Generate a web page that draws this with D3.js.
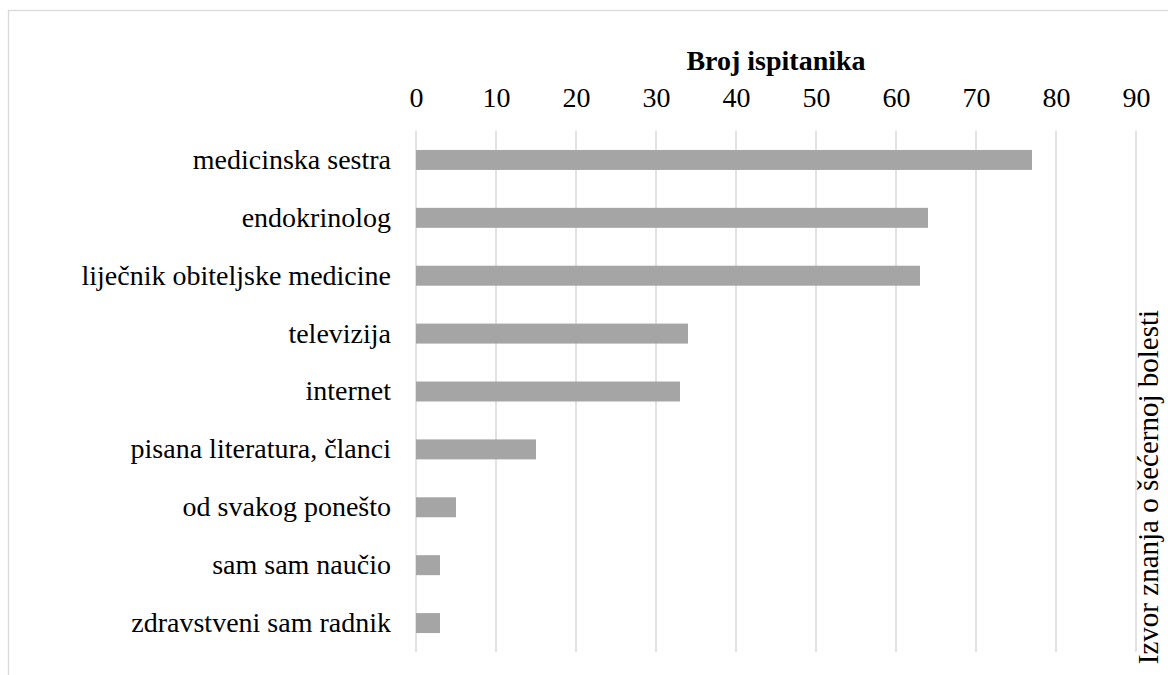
<!DOCTYPE html>
<html>
<head>
<meta charset="utf-8">
<script src="https://cdn.jsdelivr.net/npm/d3@7"></script>
<style>
  body { margin: 0; background: #fff; }
  svg { display: block; font-family: "Liberation Serif", "Times New Roman", serif; }
  svg text { font-family: "Liberation Serif", "Times New Roman", serif; }
</style>
</head>
<body>
<div id="chart"></div>
<script>
var categories = ["medicinska sestra", "endokrinolog", "liječnik obiteljske medicine", "televizija",
                  "internet", "pisana literatura, članci", "od svakog ponešto", "sam sam naučio",
                  "zdravstveni sam radnik"];
var values = [77, 64, 63, 34, 33, 15, 5, 3, 3];
var tickValues = [0, 10, 20, 30, 40, 50, 60, 70, 80, 90];
var xTitle = "Broj ispitanika";
var yTitle = "Izvor znanja o šećernoj bolesti";

var margin = {top: 131, right: 32, bottom: 23, left: 416},
    w = 1168,
    h = 675;
var width = w - margin.left - margin.right,   // 720
    height = h - margin.top - margin.bottom;  // 521

var svg = d3.select("#chart")
  .append("svg")
  .attr("width", w)
  .attr("height", h);

// outer chart border (runs past the right and bottom edge, as in the picture)
svg.append("rect")
  .attr("x", 8.5).attr("y", 10.5)
  .attr("width", 1300).attr("height", 800)
  .attr("fill", "none")
  .attr("stroke", "#d9d9d9")
  .attr("stroke-width", 1.3);

var g = svg.append("g")
  .attr("transform", "translate(" + margin.left + "," + margin.top + ")");

var x = d3.scaleLinear().domain([0, 90]).range([0, width]);
var y = d3.scaleBand().domain(categories).range([0, height]).paddingInner(0.655).paddingOuter(0.3275);

// gridlines
g.selectAll("line.grid")
  .data(tickValues)
  .enter().append("line")
  .attr("class", "grid")
  .attr("x1", function(d) { return x(d); })
  .attr("x2", function(d) { return x(d); })
  .attr("y1", 0)
  .attr("y2", height)
  .attr("stroke", "#d9d9d9")
  .attr("stroke-width", 1.5);

// bars
g.selectAll("rect.bar")
  .data(values)
  .enter().append("rect")
  .attr("class", "bar")
  .attr("x", x(0))
  .attr("y", function(d, i) { return y(categories[i]); })
  .attr("width", function(d) { return x(d) - x(0); })
  .attr("height", y.bandwidth())
  .attr("fill", "#a5a5a5");

// top axis, labels only
var xAxis = g.append("g")
  .call(d3.axisTop(x).tickValues(tickValues).tickSize(0).tickPadding(24));
xAxis.attr("font-family", null).attr("font-size", 28);
xAxis.select(".domain").remove();
xAxis.selectAll("text").attr("fill", "#000");

// category axis, labels only
var yAxis = g.append("g")
  .call(d3.axisLeft(y).tickSize(0).tickPadding(25));
yAxis.attr("font-family", null).attr("font-size", 28);
yAxis.select(".domain").remove();
yAxis.selectAll("text").attr("fill", "#000");

// axis titles
svg.append("text")
  .attr("x", margin.left + width / 2)
  .attr("y", 70)
  .attr("text-anchor", "middle")
  .style("font-size", "28px")
  .style("font-weight", "bold")
  .text(xTitle);

svg.append("text")
  .attr("transform", "translate(1158,487) rotate(-90)")
  .attr("text-anchor", "middle")
  .style("font-size", "29px")
  .text(yTitle);
</script>
</body>
</html>
